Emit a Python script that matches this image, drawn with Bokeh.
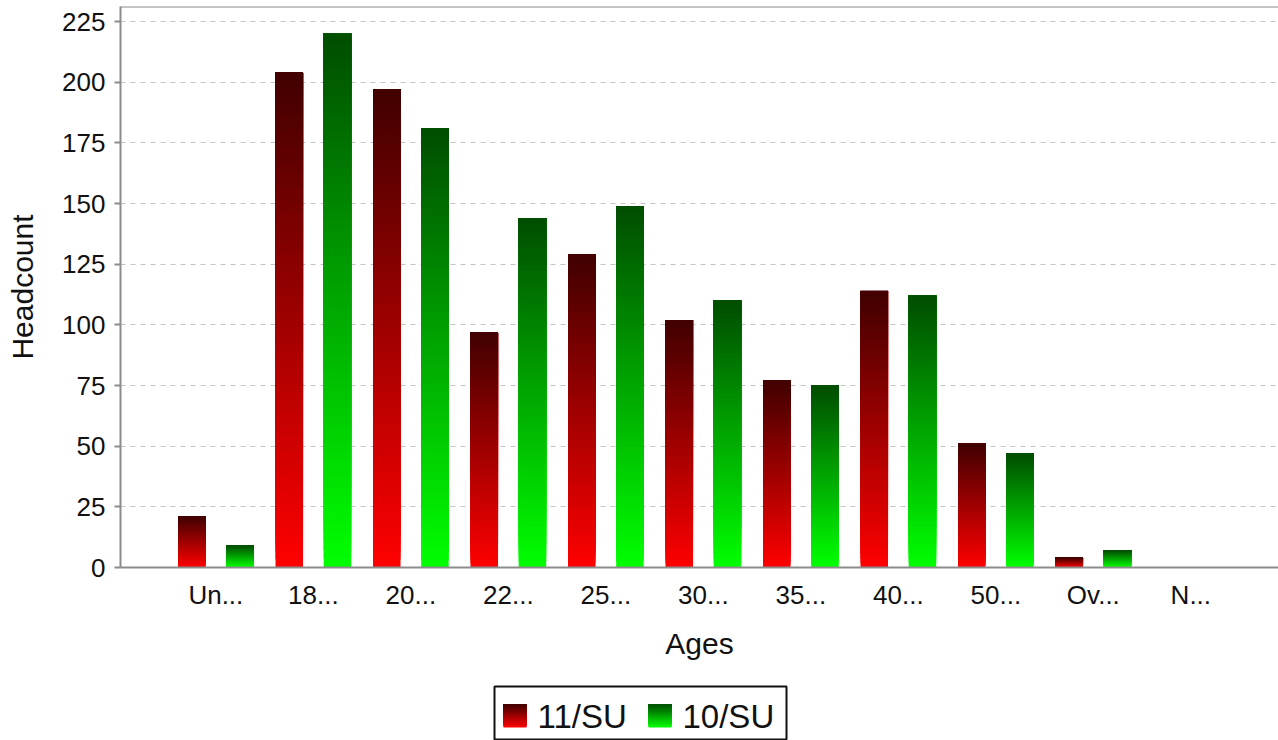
import numpy as np
from bokeh.plotting import figure
from bokeh.models import Range1d, FixedTicker, Span, ColumnDataSource
from bokeh.embed import file_html
from bokeh.resources import INLINE
from bokeh.core.properties import value

# ---------------- data ----------------
categories = ["Un...", "18...", "20...", "22...", "25...", "30...",
              "35...", "40...", "50...", "Ov...", "N..."]
series_names = ["11/SU", "10/SU"]
values_11su = [21, 204, 197, 97, 129, 102, 77, 114, 51, 4, 0]
values_10su = [9, 220, 181, 144, 149, 110, 75, 112, 47, 7, 0]
y_ticks = [0, 25, 50, 75, 100, 125, 150, 175, 200, 225]

# ---------------- styles ----------------
FONT = "Liberation Sans"
RED_BOTTOM, RED_TOP = (255, 0, 0), (64, 0, 0)
GREEN_BOTTOM, GREEN_TOP = (0, 255, 0), (0, 77, 0)
AXIS_GREY = "#8c8c8c"
N_SLICES = 60
BAR_W = 0.282
OFFSET = 0.247
Y_END = 231.2


def mix(c0, c1, t):
    r = round(c0[0] + (c1[0] - c0[0]) * t)
    g = round(c0[1] + (c1[1] - c0[1]) * t)
    b = round(c0[2] + (c1[2] - c0[2]) * t)
    return "#%02x%02x%02x" % (r, g, b)


def gradient_source(vals, offset, c_bottom, c_top):
    xs, bottoms, tops, colors = [], [], [], []
    for i, v in enumerate(vals):
        if v <= 0:
            continue
        for k in range(N_SLICES):
            xs.append(i + offset)
            bottoms.append(v * k / N_SLICES)
            tops.append(v)
            colors.append(mix(c_bottom, c_top, (k + 0.5) / N_SLICES))
    return ColumnDataSource(dict(x=xs, bottom=bottoms, top=tops, color=colors))


p = figure(width=1278, height=680, output_backend="svg", toolbar_location=None,
           x_range=Range1d(-0.978, 10.899), y_range=Range1d(0, Y_END),
           min_border_left=120, min_border_right=0, min_border_top=6,
           min_border_bottom=113)
p.outline_line_color = None
p.background_fill_color = "white"
p.border_fill_color = "white"

for vals, off, cb, ct in [(values_11su, -OFFSET, RED_BOTTOM, RED_TOP),
                          (values_10su, OFFSET, GREEN_BOTTOM, GREEN_TOP)]:
    src = gradient_source(vals, off, cb, ct)
    p.vbar(x="x", bottom="bottom", top="top", width=BAR_W, source=src,
           fill_color="color", line_color=None)

# grid
p.xgrid.grid_line_color = None
p.ygrid.ticker = FixedTicker(ticks=y_ticks)
p.ygrid.grid_line_color = "#c4c4c4"
p.ygrid.grid_line_dash = "5 5"
p.ygrid.grid_line_width = 1

# top border line
p.add_layout(Span(location=Y_END, dimension="width", line_color=AXIS_GREY, line_width=2))

# x axis
xa = p.xaxis[0]
xa.ticker = FixedTicker(ticks=list(range(len(categories))))
xa.major_label_overrides = {i: c for i, c in enumerate(categories)}
xa.major_tick_out = 0
xa.major_tick_in = 0
xa.minor_tick_out = 0
xa.minor_tick_in = 0
xa.axis_line_color = AXIS_GREY
xa.axis_line_width = 2
xa.major_label_text_font = FONT
xa.major_label_text_font_size = "26px"
xa.major_label_text_color = "#111111"
xa.major_label_standoff = 12
xa.axis_label = "Ages"
xa.axis_label_text_font = FONT
xa.axis_label_text_font_size = "30px"
xa.axis_label_text_font_style = "normal"
xa.axis_label_text_color = "#111111"
xa.axis_label_standoff = 14

# y axis
ya = p.yaxis[0]
ya.ticker = FixedTicker(ticks=y_ticks)
ya.major_tick_out = 6
ya.major_tick_in = 0
ya.minor_tick_out = 0
ya.minor_tick_in = 0
ya.major_tick_line_color = AXIS_GREY
ya.major_tick_line_width = 2
ya.axis_line_color = AXIS_GREY
ya.axis_line_width = 2
ya.major_label_text_font = FONT
ya.major_label_text_font_size = "26px"
ya.major_label_text_color = "#111111"
ya.major_label_standoff = 9
ya.axis_label = "Headcount"
ya.axis_label_text_font = FONT
ya.axis_label_text_font_size = "30px"
ya.axis_label_text_font_style = "normal"
ya.axis_label_text_color = "#111111"
ya.axis_label_standoff = 20

# ---------------- legend (separate small figure) ----------------
lg = figure(width=1278, height=60, output_backend="svg", toolbar_location=None,
            x_range=Range1d(0, 292), y_range=Range1d(54, 0),
            x_axis_location=None, y_axis_location=None,
            min_border_left=494, min_border_right=492, min_border_top=6,
            min_border_bottom=0)
lg.grid.grid_line_color = None
lg.outline_line_color = "#111111"
lg.outline_line_width = 2
lg.background_fill_color = "white"
lg.border_fill_color = "white"

swatch_x = [9, 154]
text_x = [43, 188]
swatch_cols = [(RED_BOTTOM, RED_TOP), (GREEN_BOTTOM, GREEN_TOP)]
for name, sx, tx, (cb, ct) in zip(series_names, swatch_x, text_x, swatch_cols):
    n = 30
    lefts, rights, tops, bottoms, cols = [], [], [], [], []
    for k in range(n):
        lefts.append(sx)
        rights.append(sx + 23)
        bottoms.append(41 - 23 * k / n)
        tops.append(18)
        cols.append(mix(cb, ct, (k + 0.5) / n))
    lg.quad(left=lefts, right=rights, top=tops, bottom=bottoms,
            fill_color=cols, line_color=None)
    lg.text(x=[tx], y=[29.5], text=[name], text_baseline="middle",
            text_font=value(FONT), text_font_size="33px", text_color="#111111")

open("out.html", "w").write(file_html([p, lg], INLINE))
